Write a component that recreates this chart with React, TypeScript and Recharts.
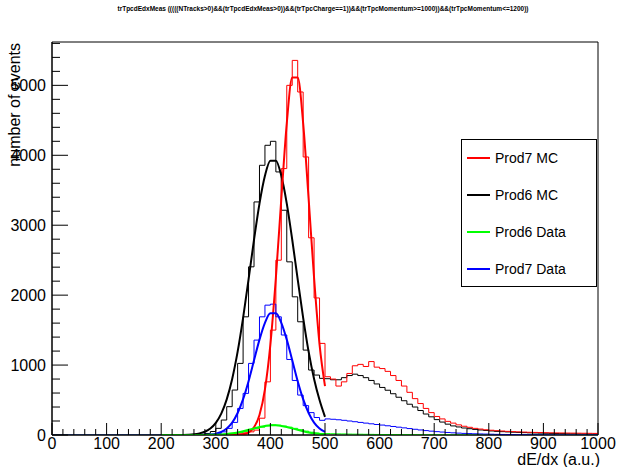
import React from "react";
import { ComposedChart, Line, XAxis, YAxis, ReferenceArea, Legend } from "recharts";

const TITLE =
  "trTpcdEdxMeas (((((NTracks>0)&&(trTpcdEdxMeas>0))&&(trTpcCharge==1))&&(trTpcMomentum>=1000))&&(trTpcMomentum<=1200))";
const X_TITLE = "dE/dx (a.u.)";
const Y_TITLE = "number of events";

// histogram bins are 10 wide; listed contents start at the 250 bin (lower bins empty)
const BIN_WIDTH = 10;
const HIST_FIRST_BIN = 250;
const X_MAX = 1000;
const Y_MAX = 5620;

const prod7MC = [
  0, 0, 0, 0, 0, 1, 2, 4, 8, 15, 30, 45, 70, 240, 760, 1500, 2500, 3810, 5000, 5357, 4905, 3976, 2820, 1960, 1310,
  833, 800, 700, 760, 880, 990, 1010, 980, 1050, 970, 950, 910, 850, 780, 700, 610, 520, 450, 380, 320,
  265, 230, 195, 170, 145, 125, 110, 95, 85, 75, 68, 62, 57, 52, 48, 45, 42, 39, 37, 35,
  33, 31, 30, 29, 28, 27, 26, 25, 24, 23,
];

const prod6MC = [
  2, 5, 10, 22, 50, 95, 214, 405, 643, 1024, 1690, 2405, 3333, 3857, 4143, 4200, 3762, 3214, 2476, 1976, 1619, 1214, 929, 857, 810,
  805, 790, 790, 820, 850, 870, 850, 820, 780, 730, 680, 640, 590, 540, 490, 440, 400, 350, 300, 260,
  220, 185, 155, 130, 115, 100, 90, 80, 72, 65, 58, 52, 48, 44, 40, 37, 34, 31, 29, 27,
  25, 23, 21, 20, 18, 17, 15, 14, 13, 12,
];

const prod6Data = [
  0, 0, 1, 2, 3, 5, 8, 14, 22, 35, 52, 75, 95, 112, 130, 145, 140, 128, 112, 95, 75, 55, 40, 28, 22,
  20, 18, 16, 15, 13, 12, 11, 10, 9, 8, 7, 7, 6, 6, 5, 5, 4, 4, 3, 3,
  3, 2, 2, 2, 2, 1, 1, 1, 1, 1, 1, 1, 0, 0, 0, 0, 0, 0, 0, 0,
  0, 0, 0, 0, 0, 0, 0, 0, 0, 0,
];

const prod7Data = [
  0, 1, 2, 4, 8, 20, 45, 95, 180, 380, 595, 1024, 1357, 1690, 1857, 1871, 1690, 1430, 1080, 780, 571, 420, 320, 250, 210,
  230, 225, 218, 210, 200, 190, 180, 170, 160, 150, 142, 132, 122, 112, 102, 92, 82, 72, 63, 55,
  48, 42, 36, 31, 27, 23, 20, 17, 15, 13, 11, 9, 8, 7, 6, 5, 5, 4, 4, 3,
  3, 2, 2, 2, 2, 1, 1, 1, 1, 1,
];

// gaussian fit curves, sampled every 10 from 200 to 500
const FIT_FIRST_X = 200;
const prod7MCFit = [
  0, 0, 0, 0, 0, 0, 0, 0, 0, 0, 0, 0, 0, 1, 3,
  11, 36, 110, 287, 653, 1297, 2245, 3380, 4457, 5111, 5111, 4457, 3380, 2245, 1297, 700,
];
const prod6MCFit = [
  0, 0, 0, 0, 1, 4, 10, 23, 47, 93, 174, 306, 510, 802, 1192, 1676,
  2225, 2792, 3309, 3706, 3922, 3922, 3706, 3309, 2792, 2225, 1676, 1192, 802, 500, 260,
];
const prod6DataFit = [
  0, 0, 0, 0, 0, 0, 0, 1, 1, 2, 4, 8, 15, 24, 37, 54,
  74, 95, 115, 130, 139, 139, 130, 115, 95, 74, 54, 37, 24, 15, 8,
];
const prod7DataFit = [
  0, 0, 0, 0, 0, 0, 0, 1, 3, 8, 20, 44, 92, 177, 314, 512,
  770, 1068, 1364, 1605, 1742, 1742, 1605, 1364, 1068, 770, 512, 314, 177, 92, 44,
];

const xLabels = [0, 100, 200, 300, 400, 500, 600, 700, 800, 900, 1000];
const yLabels = [0, 1000, 2000, 3000, 4000, 5000];

const legendItems = [
  { name: "Prod7 MC", color: "#ff0000" },
  { name: "Prod6 MC", color: "#000000" },
  { name: "Prod6 Data", color: "#00ff00" },
  { name: "Prod7 Data", color: "#0000ff" },
];

const FONT = "'Liberation Sans', Arial, Helvetica, sans-serif";

function toHist(values: number[]) {
  const pts = [];
  for (let x = 0; x <= X_MAX; x += BIN_WIDTH) {
    const bin = Math.min(x, X_MAX - BIN_WIDTH);
    const i = (bin - HIST_FIRST_BIN) / BIN_WIDTH;
    pts.push({ x, y: i >= 0 ? values[i] : 0 });
  }
  return pts;
}

function toFit(values: number[]) {
  return values.map((y, i) => ({ x: FIT_FIRST_X + i * BIN_WIDTH, y }));
}

const xTicks: number[] = [];
for (let v = 0; v <= X_MAX; v += 20) xTicks.push(v);
const yTicks: number[] = [];
for (let v = 0; v <= 5600; v += 200) yTicks.push(v);

const XTick = (props: any) => {
  const { x, y, payload } = props;
  const major = xLabels.includes(payload.value);
  return (
    <g>
      <line x1={x} x2={x} y1={y} y2={y - (major ? 12 : 6)} stroke="#000" />
      {major && (
        <text x={x} y={y + 14} textAnchor="middle" fontSize={16} fontFamily={FONT} fill="#000">
          {payload.value}
        </text>
      )}
    </g>
  );
};

const YTick = (props: any) => {
  const { x, y, payload } = props;
  const major = yLabels.includes(payload.value);
  return (
    <g>
      <line x1={x} x2={x + (major ? 16 : 8)} y1={y} y2={y} stroke="#000" />
      {major && (
        <text x={x - 6} y={y + 6} textAnchor="end" fontSize={16} fontFamily={FONT} fill="#000">
          {payload.value}
        </text>
      )}
    </g>
  );
};

const LegendBox = () => (
  <div
    style={{
      boxSizing: "border-box",
      width: 136,
      height: 148,
      border: "1px solid #000",
      background: "#fff",
      position: "relative",
      fontFamily: FONT,
      fontSize: 14,
      lineHeight: "16px",
    }}
  >
    {legendItems.map((item, i) => (
      <React.Fragment key={item.name}>
        <div
          style={{
            position: "absolute",
            left: 5,
            top: 17 + i * 37,
            width: 23,
            height: 2,
            backgroundColor: item.color,
          }}
        />
        <div style={{ position: "absolute", left: 33, top: 10 + i * 37, color: "#000", whiteSpace: "nowrap" }}>
          {item.name}
        </div>
      </React.Fragment>
    ))}
  </div>
);

export default function App() {
  const series = [
    { key: "p6mc", data: toHist(prod6MC), color: "#000000" },
    { key: "p7mc", data: toHist(prod7MC), color: "#ff0000" },
    { key: "p6d", data: toHist(prod6Data), color: "#00ff00" },
    { key: "p7d", data: toHist(prod7Data), color: "#0000ff" },
  ];
  const fits = [
    { key: "f6mc", data: toFit(prod6MCFit), color: "#000000" },
    { key: "f7mc", data: toFit(prod7MCFit), color: "#ff0000" },
    { key: "f7d", data: toFit(prod7DataFit), color: "#0000ff" },
    { key: "f6d", data: toFit(prod6DataFit), color: "#00ff00" },
  ];

  return (
    <div style={{ position: "absolute", left: 0, top: 0, width: 618, height: 467, background: "#fff" }}>
      <div
        style={{
          position: "absolute",
          left: 0,
          top: 5,
          width: 646,
          textAlign: "center",
          fontFamily: FONT,
          fontSize: 6.5,
          fontWeight: "bold",
          whiteSpace: "nowrap",
        }}
      >
        {TITLE}
      </div>
      <ComposedChart width={618} height={467} margin={{ top: 42, right: 20, bottom: 0, left: 0 }}>
        <XAxis
          type="number"
          dataKey="x"
          domain={[0, X_MAX]}
          ticks={xTicks}
          interval={0}
          height={32}
          tickSize={0}
          tickMargin={0}
          tick={<XTick />}
          axisLine={{ stroke: "#000" }}
          allowDataOverflow
          label={{
            content: () => (
              <text x={600} y={465} textAnchor="end" fontSize={16} fontFamily={FONT} fill="#000">
                {X_TITLE}
              </text>
            ),
          }}
        />
        <YAxis
          type="number"
          domain={[0, Y_MAX]}
          ticks={yTicks}
          interval={0}
          width={52}
          tickSize={0}
          tickMargin={0}
          tick={<YTick />}
          axisLine={{ stroke: "#000" }}
          allowDataOverflow
          label={{
            content: () => (
              <text
                x={20}
                y={43}
                transform="rotate(-90 20 43)"
                textAnchor="end"
                fontSize={16}
                fontFamily={FONT}
                fill="#000"
              >
                {Y_TITLE}
              </text>
            ),
          }}
        />
        <ReferenceArea x1={0} x2={X_MAX} y1={0} y2={Y_MAX} fill="none" stroke="#000" strokeWidth={1} />
        {series.map((s) => (
          <Line
            key={s.key}
            data={s.data}
            dataKey="y"
            type="stepAfter"
            stroke={s.color}
            strokeWidth={1}
            dot={false}
            isAnimationActive={false}
          />
        ))}
        {fits.map((s) => (
          <Line
            key={s.key}
            data={s.data}
            dataKey="y"
            type="monotone"
            stroke={s.color}
            strokeWidth={2}
            dot={false}
            isAnimationActive={false}
          />
        ))}
        <Legend
          layout="horizontal"
          verticalAlign="middle"
          align="center"
          content={() => <LegendBox />}
          wrapperStyle={{ left: 461, top: 139, width: 136, height: 148 }}
        />
      </ComposedChart>
    </div>
  );
}
